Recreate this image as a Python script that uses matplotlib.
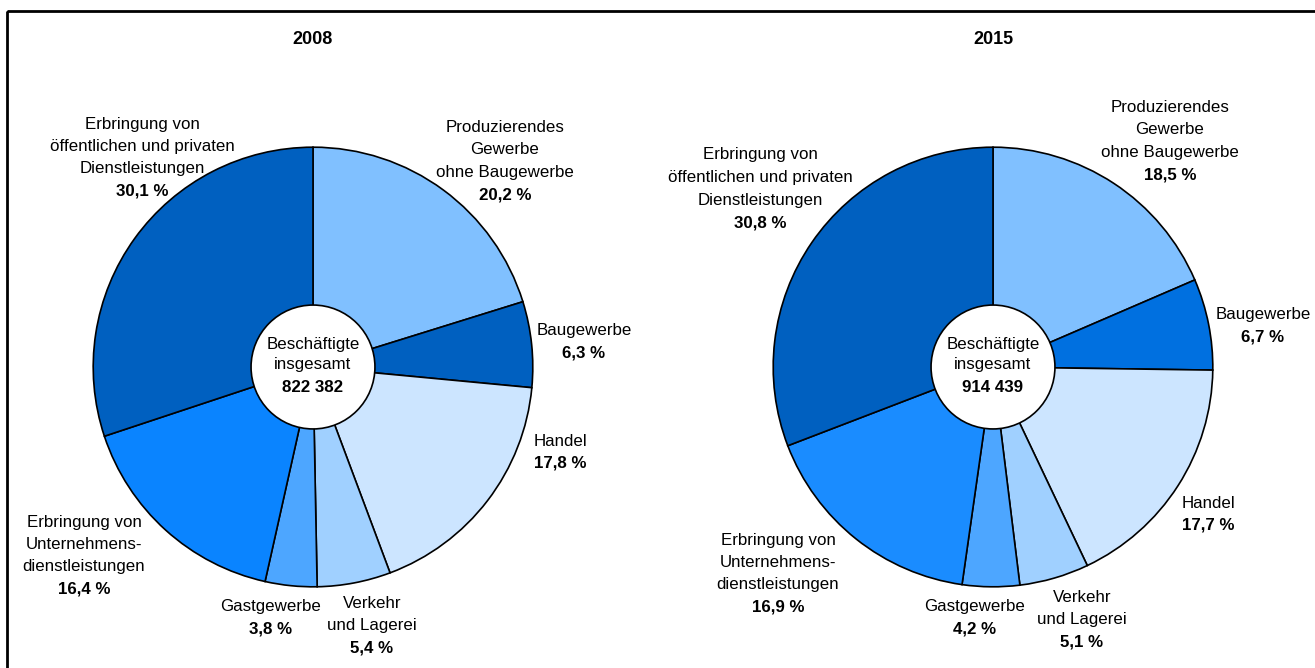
import numpy as np
import matplotlib.pyplot as plt
from matplotlib.patches import Circle, Rectangle

plt.rcParams['font.family'] = ['Liberation Sans Narrow', 'Liberation Sans', 'DejaVu Sans']
plt.rcParams['font.size'] = 12.2

years = ['2008', '2015']
totals = ['822 382', '914 439']
sectors = ['Produzierendes\nGewerbe\nohne Baugewerbe', 'Baugewerbe', 'Handel',
           'Verkehr\nund Lagerei', 'Gastgewerbe',
           'Erbringung von\nUnternehmens-\ndienstleistungen',
           'Erbringung von\nöffentlichen und privaten\nDienstleistungen']
shares_2008 = [20.2, 6.3, 17.8, 5.4, 3.8, 16.4, 30.1]
shares_2015 = [18.5, 6.7, 17.7, 5.1, 4.2, 16.9, 30.8]
colors_2008 = ['#80C0FF', '#0060C0', '#CCE5FF', '#A0D0FF', '#4DA6FF', '#0A84FF', '#0060C0']
colors_2015 = ['#80C0FF', '#0070E0', '#CCE5FF', '#A0D0FF', '#4DA6FF', '#1A8CFF', '#0060C0']

W, H = 1315, 668
fig = plt.figure(figsize=(W / 100, H / 100), dpi=100)

centers = [(313, 367), (993, 367)]
radius = 220

# pies first, text overlay on top
for k, (shares, cols) in enumerate(zip([shares_2008, shares_2015], [colors_2008, colors_2015])):
    cx, cy = centers[k]
    ax = fig.add_axes([(cx - radius - 2) / W, 1 - (cy + radius + 2) / H,
                       (2 * radius + 4) / W, (2 * radius + 4) / H])
    ax.pie(shares, colors=cols, startangle=90, counterclock=False, radius=1,
           wedgeprops=dict(edgecolor='black', linewidth=1.2))
    ax.add_patch(Circle((0, 0), 62 / radius, facecolor='white', edgecolor='black',
                        lw=1.2, zorder=5))
    ax.set_xlim(-1.01, 1.01)
    ax.set_ylim(-1.01, 1.01)
    ax.set_aspect('equal')
    ax.axis('off')

# overlay axes in pixel coordinates for frame and labels
bg = fig.add_axes([0, 0, 1, 1])
bg.set_xlim(0, W)
bg.set_ylim(H, 0)
bg.axis('off')
bg.patch.set_alpha(0)
bg.add_patch(Rectangle((7, 11), W, H, fill=False, lw=2, ec='black'))

# label anchor (x centre, y of first line) per sector
label_pos = [
    [(505, 127), (584, 331), (560, 441), (372, 603), (271, 606), (84, 522), (142, 124)],
    [(1170, 107), (1263, 315), (1208, 503), (1082, 597), (975, 606), (778, 540), (760, 155)],
]
line_h = 22.5

for k, (year, total, shares) in enumerate(zip(years, totals, [shares_2008, shares_2015])):
    cx, cy = centers[k]
    bg.text(cx, 40, year, ha='center', va='center', fontweight='bold', fontsize=13)
    bg.text(cx, 344, 'Beschäftigte', ha='center', va='center')
    bg.text(cx, 365, 'insgesamt', ha='center', va='center')
    bg.text(cx, 388, total, ha='center', va='center', fontweight='bold')

    for name, val, (lx, ly) in zip(sectors, shares, label_pos[k]):
        lines = name.split('\n')
        for j, ln in enumerate(lines):
            bg.text(lx, ly + j * line_h, ln, ha='center', va='center')
        pct = f'{val:.1f} %'.replace('.', ',')
        bg.text(lx, ly + len(lines) * line_h, pct, ha='center', va='center',
                fontweight='bold')

fig.savefig('out.png', dpi=100)
